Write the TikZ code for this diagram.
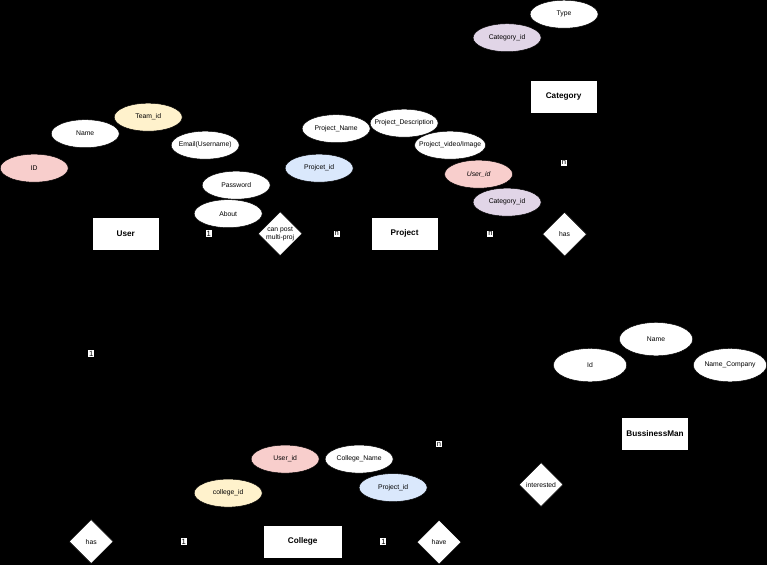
\documentclass[tikz,border=0pt]{standalone}
\usepackage{fontspec}
\setmainfont{Liberation Sans}
\usetikzlibrary{shapes.geometric,backgrounds}
\definecolor{keypink}{HTML}{F8CECC}
\definecolor{keyyellow}{HTML}{FFF2CC}
\definecolor{keyblue}{HTML}{DAE8FC}
\definecolor{keypurple}{HTML}{E1D5E7}
\tikzset{
  entity/.style={draw=black, fill=white, minimum width=2.01cm, minimum height=0.99cm,
                 inner sep=0pt, font=\fontsize{7}{8}\selectfont\bfseries},
  attr/.style={ellipse, draw=black, fill=white, minimum width=2.04cm, minimum height=0.84cm,
               inner sep=-5pt, font=\fontsize{5.8}{6.8}\selectfont},
  wideattr/.style={attr, minimum width=2.2cm, minimum height=1cm},
  rel/.style={diamond, draw=black, fill=white, minimum width=1.32cm, minimum height=1.32cm,
              aspect=1, inner sep=-2pt, align=center, font=\fontsize{5.8}{6.8}\selectfont},
  card/.style={fill=white, inner sep=0.8pt, font=\fontsize{6.5}{7}\selectfont},
  link/.style={black, thin},
}

\begin{document}
\begin{tikzpicture}[x=0.03cm, y=-0.03cm]
    % entities
    \node[entity] (User)         at (125.5,233.5) {User};
    \node[entity] (Project)      at (404.5,233.5) {Project};
    \node[entity] (Category)     at (563.5,96.5)  {Category};
    \node[entity] (BussinessMan) at (655,433.5)   {BussinessMan};
    \node[entity, minimum width=2.37cm] (College) at (302.5,541.5) {College};
    % relations
    \node[rel] (canpost)    at (280,233.5) {can post\\multi-proj};
    \node[rel] (hascat)     at (564.5,234) {has};
    \node[rel] (hascol)     at (91,541.5)  {has};
    \node[rel] (have)       at (439,542)   {have};
    \node[rel] (interested) at (541,484.5) {interested};
    % user attributes
    \node[attr, fill=keypink]   (uid)    at (34,168)    {ID};
    \node[attr]                 (uname)  at (85,133.5)  {Name};
    \node[attr, fill=keyyellow] (uteam)  at (148,117)   {Team\_id};
    \node[attr]                 (umail)  at (205,145)   {Email(Username)};
    \node[attr]                 (upass)  at (236,185)   {Password};
    \node[attr]                 (uabout) at (228,213.5) {About};
    % project attributes
    \node[attr]                 (pname)  at (336,128.5) {Project\_Name};
    \node[attr]                 (pdesc)  at (404,123)   {Project\_Description};
    \node[attr]                 (pmedia) at (450,145)   {Project\_video/Image};
    \node[attr, fill=keyblue]   (pid)    at (319,168)   {Projcet\_id};
    \node[attr, fill=keypink]   (puser)  at (478.5,174) {\itshape User\_id};
    \node[attr, fill=keypurple] (pcat)   at (507,202)   {Category\_id};
    % category attributes
    \node[attr]                 (ctype)  at (564,14)    {Type};
    \node[attr, fill=keypurple] (ccat)   at (507,37.5)  {Category\_id};
    % bussinessman attributes
    \node[wideattr] (bname) at (656,339) {Name};
    \node[wideattr] (bid)   at (590,365) {Id};
    \node[wideattr] (bcomp) at (730,365) {Name\_Company};
    % college attributes
    \node[attr, fill=keypink]   (guser) at (285,459)   {User\_id};
    \node[attr]                 (gname) at (359,459)   {College\_Name};
    \node[attr, fill=keyblue]   (gproj) at (393,487.5) {Project\_id};
    \node[attr, fill=keyyellow] (gid)   at (228,493)   {college\_id};
    \begin{scope}[on background layer]
      \fill[black] (0,0) rectangle (767,565);
      \foreach \a/\e in {uid/User, uname/User, uteam/User, umail/User, upass/User, uabout/User,
                         pname/Project, pdesc/Project, pmedia/Project, pid/Project, puser/Project, pcat/Project,
                         ctype/Category, ccat/Category, bname/BussinessMan, bid/BussinessMan, bcomp/BussinessMan,
                         guser/College, gname/College, gproj/College, gid/College}
        \draw[link] (\a) -- (\e);
      \draw[link] (User) -- (canpost) node[card, pos=0.5] {1};
      \draw[link] (canpost) -- (Project) node[card, pos=0.5] {n};
      \draw[link] (Project) -- (hascat) node[card, pos=0.5] {n};
      \draw[link] (hascat) -- (Category) node[card, pos=0.5] {n};
      \draw[link] (User.west) -| (hascol.north) node[card, pos=0.71] {1};
      \draw[link] (hascol) -- (College) node[card, pos=0.47] {1};
      \draw[link] (College) -- (have) node[card, pos=0.55] {1};
      \draw[link] (have.north) -- (Project.south east) node[card, pos=0.28] {n};
      \draw[link] (interested) -- (BussinessMan);
      \draw[link] (interested) -- (Project);
    \end{scope}
\end{tikzpicture}
\end{document}
